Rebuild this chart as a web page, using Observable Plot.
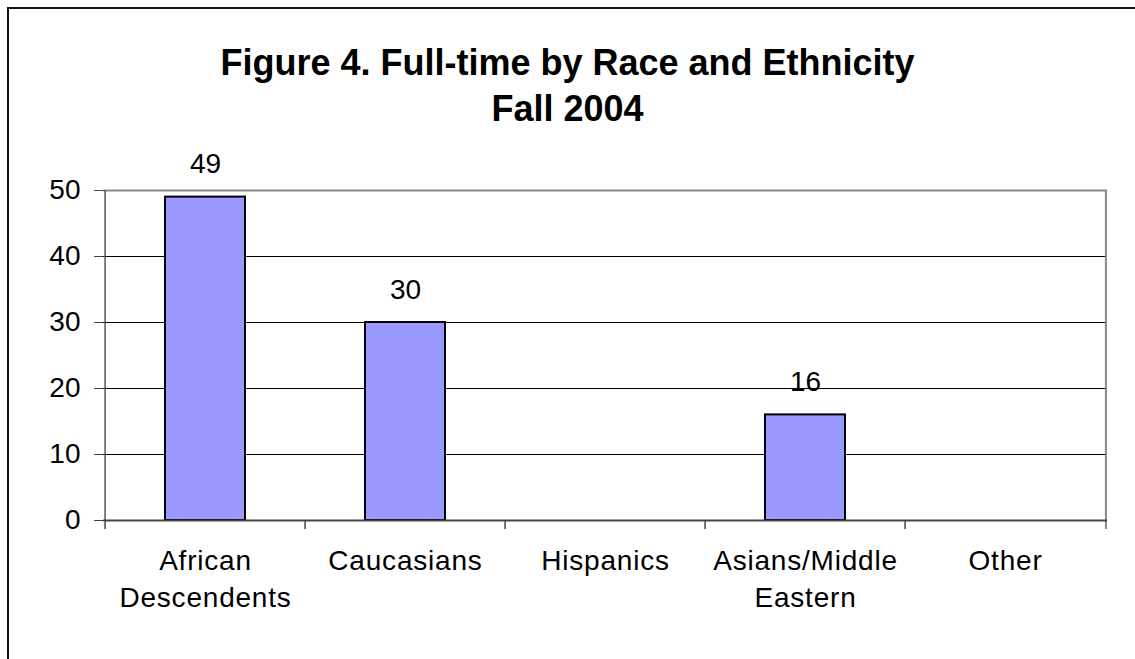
<!DOCTYPE html>
<html>
<head>
<meta charset="utf-8">
<script src="https://cdn.jsdelivr.net/npm/d3@7"></script>
<script src="https://cdn.jsdelivr.net/npm/@observablehq/plot@0.6"></script>
<style>
  html, body { margin: 0; padding: 0; background: #fff; }
  #wrap { position: relative; width: 1135px; height: 659px; overflow: hidden; font-family: "Liberation Sans", Arial, sans-serif; }
  #frame { position: absolute; left: 7px; top: 7px; width: 1140px; height: 660px; border-left: 2px solid #111; border-top: 2px solid #111; }
  .title { position: absolute; left: 0; width: 1135px; text-align: center; font-weight: bold; font-size: 36px; line-height: 46px; color: #000; }
  #chart { position: absolute; left: 0; top: 0; }
  #chart svg g[aria-label="x-axis tick label"] text { letter-spacing: 0.8px; }
</style>
</head>
<body>
<div id="wrap">
  <div id="frame"></div>
  <div class="title" style="top:40px">Figure 4. Full-time by Race and Ethnicity</div>
  <div class="title" style="top:86px">Fall 2004</div>
  <div id="chart"></div>
</div>
<script>
const categories = ["African Descendents", "Caucasians", "Hispanics", "Asians/Middle Eastern", "Other"];
const tickLabels = ["African\nDescendents", "Caucasians", "Hispanics", "Asians/Middle\nEastern", "Other"];
const values = [49, 30, 0, 16, 0];
const yTicks = [0, 10, 20, 30, 40, 50];

const data = categories.map((c, i) => ({category: c, value: values[i]}));
const shown = data.filter(d => d.value > 0);

const W = 1135, H = 659, ML = 103, MR = 28, MT = 190, MB = 139;
const halfStep = (W - ML - MR) / categories.length / 2;
const labelOf = new Map(categories.map((c, i) => [c, tickLabels[i]]));

const chart = Plot.plot({
  width: W,
  height: H,
  marginLeft: ML,
  marginRight: MR,
  marginTop: MT,
  marginBottom: MB,
  style: {fontFamily: "Liberation Sans, Arial, sans-serif", fontSize: "28px", color: "#000", background: "transparent"},
  x: {domain: categories, paddingInner: 0.6, paddingOuter: 0.3, axis: null},
  y: {domain: [0, 50], axis: null},
  marks: [
    Plot.ruleY(yTicks.filter(t => t > 0 && t < 50), {stroke: "#000", strokeWidth: 1}),
    Plot.ruleY([50], {stroke: "#888", strokeWidth: 2}),
    Plot.barY(shown, {x: "category", y: "value", fill: "#9999FF", stroke: "#000", strokeWidth: 2}),
    Plot.text(shown, {x: "category", y: "value", text: d => String(d.value), dy: -24, lineAnchor: "bottom", fontSize: 28, fill: "#000"}),
    Plot.ruleX([categories[0]], {dx: -halfStep, y1: 0, y2: 50, stroke: "#555", strokeWidth: 1.5}),
    Plot.ruleX([categories[categories.length - 1]], {dx: halfStep, y1: 0, y2: 50, stroke: "#888", strokeWidth: 2}),
    Plot.ruleX(categories, {dx: -halfStep, y1: 0, y2: 0, insetBottom: -9, stroke: "#444", strokeWidth: 1.5}),
    Plot.ruleX([categories[categories.length - 1]], {dx: halfStep, y1: 0, y2: 0, insetBottom: -9, stroke: "#888", strokeWidth: 2}),
    Plot.ruleY([0], {stroke: "#444", strokeWidth: 2}),
    Plot.axisY({ticks: yTicks, tickSize: 9, tickPadding: 14, fontSize: 28, stroke: "#444", fill: "#000", label: null}),
    Plot.axisX({tickSize: 0, tickPadding: 24, fontSize: 28, lineHeight: 1.3, tickFormat: d => labelOf.get(d), label: null, fill: "#000"})
  ]
});
document.getElementById("chart").appendChild(chart);
</script>
</body>
</html>
